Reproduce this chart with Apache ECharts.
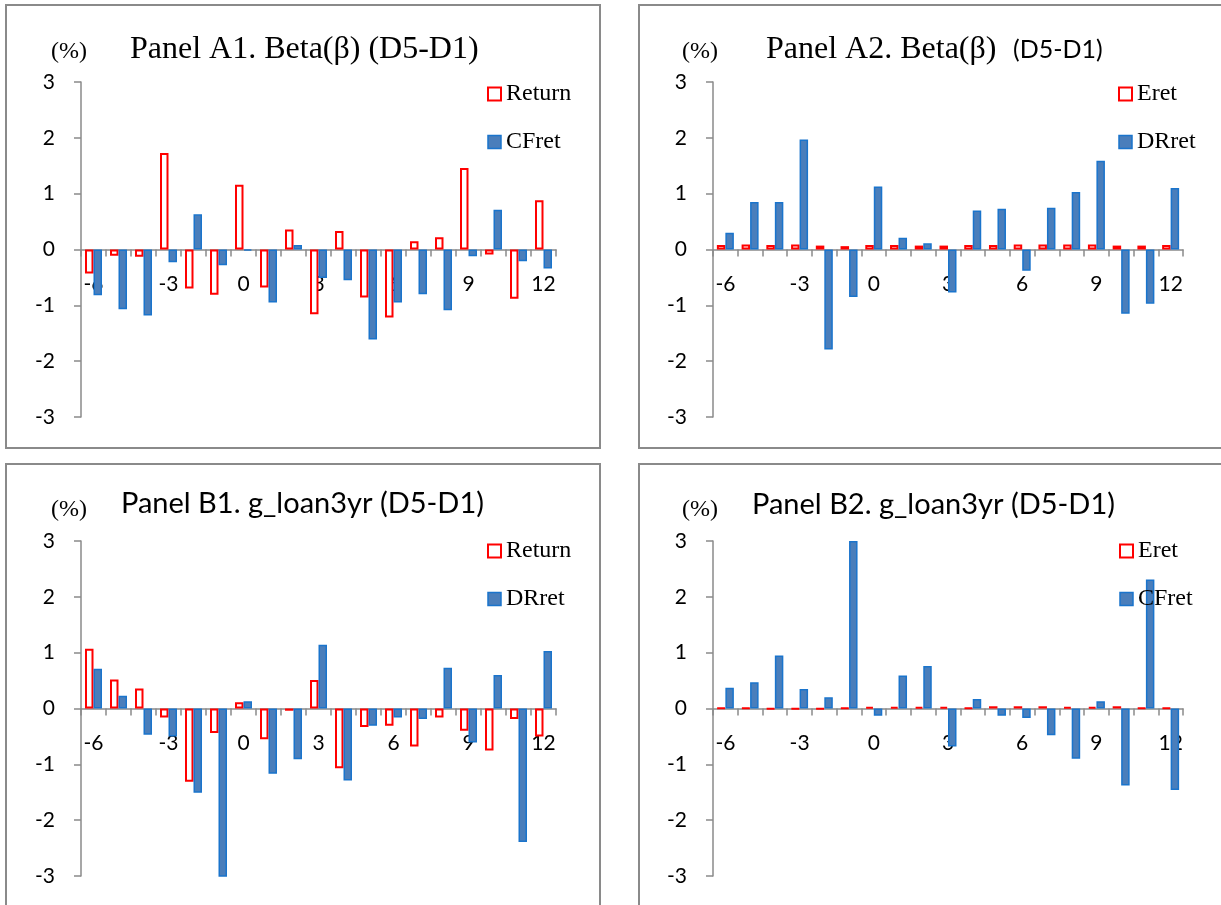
<!DOCTYPE html>
<html>
<head>
<meta charset="utf-8">
<script src="https://cdn.jsdelivr.net/npm/echarts@6/dist/echarts.min.js"></script>
<style>
html,body{margin:0;padding:0;background:#fff;}
#chart{width:1221px;height:905px;}
</style>
</head>
<body>
<div id="chart"></div>
<script>
// ---- data ----
const categories = ['-6','-5','-4','-3','-2','-1','0','1','2','3','4','5','6','7','8','9','10','11','12'];
const yMin = -3, yMax = 3, yStep = 1;

const titlesSerif = ['Panel A1. Beta(β) (D5-D1)', 'Panel A2. Beta(β) ', '', ''];
const titlesSans = ['', '(D5-D1)', 'Panel B1. g_loan3yr (D5-D1)', 'Panel B2. g_loan3yr (D5-D1)'];
const unitLabel = '(%)';

const A1_names = ['Return', 'CFret'];
const A1_Return = [-0.43,-0.11,-0.13,1.73,-0.70,-0.81,1.16,-0.68,0.36,-1.16,0.33,-0.86,-1.22,0.15,0.22,1.46,-0.09,-0.88,0.88];
const A1_CFret  = [-0.82,-1.07,-1.18,-0.23,0.63,-0.28,-0.02,-0.95,0.08,-0.51,-0.55,-1.61,-0.95,-0.80,-1.09,-0.12,0.71,-0.21,-0.34];

const A2_names = ['Eret', 'DRret'];
const A2_Eret  = [0.08,0.09,0.08,0.09,0.07,0.06,0.08,0.08,0.07,0.07,0.08,0.08,0.09,0.09,0.09,0.09,0.07,0.07,0.08];
const A2_DRret = [0.30,0.85,0.85,1.97,-1.79,-0.85,1.13,0.21,0.11,-0.77,0.70,0.73,-0.38,0.75,1.03,1.59,-1.15,-0.97,1.10];

const B1_names = ['Return', 'DRret'];
const B1_Return = [1.07,0.52,0.36,-0.16,-1.31,-0.44,0.11,-0.55,-0.04,0.51,-1.07,-0.33,-0.31,-0.68,-0.16,-0.40,-0.75,-0.19,-0.50];
const B1_DRret  = [0.71,0.23,-0.47,-0.50,-1.51,-3.05,0.13,-1.17,-0.91,1.14,-1.29,-0.31,-0.16,-0.19,0.73,-0.61,0.60,-2.39,1.03];

const B2_names = ['Eret', 'CFret'];
const B2_Eret  = [0.01,0.01,-0.01,-0.01,-0.01,0.01,0.03,0.03,0.03,0.03,0.01,0.04,0.04,0.04,0.03,0.03,0.04,0.01,0.01];
const B2_CFret = [0.37,0.47,0.95,0.35,0.20,3.00,-0.13,0.59,0.76,-0.68,0.17,-0.13,-0.17,-0.48,-0.90,0.13,-1.38,2.31,-1.46];

// ---- layout / style ----
const SANS = 'Lato';
const SERIF = 'Liberation Serif';
const AXIS_COLOR = '#8a8a8a';
const RED = '#ff0000';
const BLUE_FILL = '#4a7ebb';
const BLUE_EDGE = '#1a74cc';
const GRID_H = 335;

const panels = [
  {names: A1_names, data: [A1_Return, A1_CFret], grid: {left: 81, top: 82, width: 475, height: GRID_H}, legend: {left: 487, top: 82}},
  {names: A2_names, data: [A2_Eret, A2_DRret], grid: {left: 713, top: 82, width: 470, height: GRID_H}, legend: {left: 1118, top: 82}},
  {names: B1_names, data: [B1_Return, B1_DRret], grid: {left: 81, top: 541, width: 475, height: GRID_H}, legend: {left: 487, top: 539}},
  {names: B2_names, data: [B2_Eret, B2_CFret], grid: {left: 713, top: 541, width: 470, height: GRID_H}, legend: {left: 1119, top: 539}}
];

function styleFor(i) {
  return i === 0
    ? {color: '#ffffff', borderColor: RED, borderWidth: 2}
    : {color: BLUE_FILL, borderColor: BLUE_EDGE, borderWidth: 1.5};
}

const grids = [], xAxes = [], yAxes = [], series = [], legends = [];
panels.forEach((p, k) => {
  grids.push(Object.assign({containLabel: false}, p.grid));
  // axis placed at the zero line (middle of the symmetric -3..3 range)
  xAxes.push({
    type: 'category', gridIndex: k, data: categories,
    boundaryGap: true, position: 'bottom', offset: -GRID_H / 2,
    axisLine: {onZero: false, lineStyle: {color: AXIS_COLOR, width: 1.5}},
    axisTick: {show: true, interval: 0, length: 7, lineStyle: {color: AXIS_COLOR, width: 1.5}},
    axisLabel: {interval: 2, margin: 24, color: '#000', fontFamily: SANS, fontSize: 21},
    splitLine: {show: false}
  });
  yAxes.push({
    type: 'value', gridIndex: k, min: yMin, max: yMax, interval: yStep,
    axisLine: {show: true, lineStyle: {color: AXIS_COLOR, width: 1.5}},
    axisTick: {show: true, length: 7, lineStyle: {color: AXIS_COLOR, width: 1.5}},
    axisLabel: {margin: 26, color: '#000', fontFamily: SANS, fontSize: 21},
    splitLine: {show: false}
  });
  p.names.forEach((nm, i) => {
    series.push({
      type: 'bar', name: nm, xAxisIndex: k, yAxisIndex: k,
      data: p.data[i], barWidth: 8.5, barGap: '0%',
      itemStyle: styleFor(i), animation: false, silent: true
    });
  });
  legends.push({
    orient: 'vertical', left: p.legend.left, top: p.legend.top, padding: 0,
    itemWidth: 13, itemHeight: 13, itemGap: 24,
    textStyle: {fontFamily: SERIF, fontSize: 24, color: '#000', lineHeight: 24},
    data: p.names.map((nm, i) => ({name: nm, icon: 'rect', itemStyle: styleFor(i)})),
    selectedMode: false
  });
});

const borderStyle = {fill: 'none', stroke: '#8a8a8a', lineWidth: 2};
const graphics = [
  {type: 'rect', shape: {x: 6, y: 5, width: 594, height: 443}, style: borderStyle, z: -10},
  {type: 'rect', shape: {x: 639, y: 5, width: 620, height: 443}, style: borderStyle, z: -10},
  {type: 'rect', shape: {x: 6, y: 464, width: 594, height: 480}, style: borderStyle, z: -10},
  {type: 'rect', shape: {x: 639, y: 464, width: 620, height: 480}, style: borderStyle, z: -10},
  // unit labels
  {type: 'text', x: 51, y: 52, style: {text: unitLabel, font: '24px "' + SERIF + '"', fill: '#000', textVerticalAlign: 'middle'}},
  {type: 'text', x: 682, y: 52, style: {text: unitLabel, font: '24px "' + SERIF + '"', fill: '#000', textVerticalAlign: 'middle'}},
  {type: 'text', x: 51, y: 510, style: {text: unitLabel, font: '24px "' + SERIF + '"', fill: '#000', textVerticalAlign: 'middle'}},
  {type: 'text', x: 682, y: 510, style: {text: unitLabel, font: '24px "' + SERIF + '"', fill: '#000', textVerticalAlign: 'middle'}},
  // titles
  {type: 'text', x: 130, y: 50, style: {text: titlesSerif[0], font: '32px "' + SERIF + '"', fill: '#000', textVerticalAlign: 'middle'}},
  {type: 'text', x: 766, y: 50, style: {text: titlesSerif[1], font: '32px "' + SERIF + '"', fill: '#000', textVerticalAlign: 'middle'}},
  {type: 'text', x: 1013, y: 50, style: {text: titlesSans[1], font: '25px "' + SANS + '"', fill: '#000', textVerticalAlign: 'middle'}},
  {type: 'text', x: 121, y: 504, style: {text: titlesSans[2], font: '29px "' + SANS + '"', fill: '#000', textVerticalAlign: 'middle'}},
  {type: 'text', x: 752, y: 505, style: {text: titlesSans[3], font: '29px "' + SANS + '"', fill: '#000', textVerticalAlign: 'middle'}}
];

const chart = echarts.init(document.getElementById('chart'), null, {renderer: 'canvas'});
chart.setOption({
  backgroundColor: '#ffffff',
  animation: false,
  grid: grids,
  xAxis: xAxes,
  yAxis: yAxes,
  legend: legends,
  series: series,
  graphic: graphics
});
</script>
</body>
</html>
